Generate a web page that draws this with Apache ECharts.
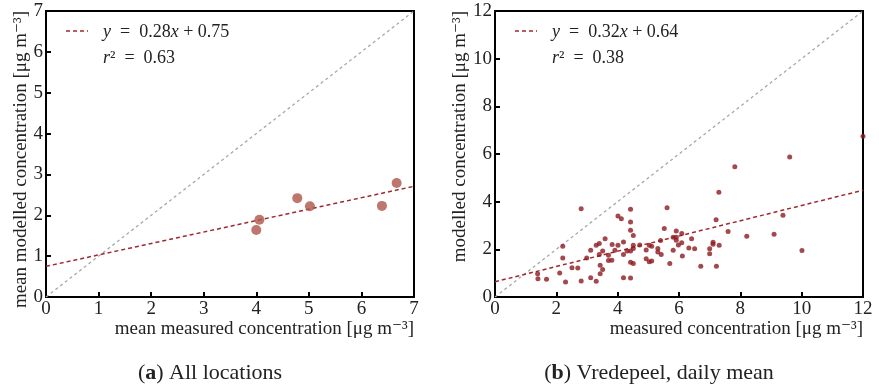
<!DOCTYPE html>
<html>
<head>
<meta charset="UTF-8">
<title>Modelled vs measured concentration</title>
<script src="https://cdn.jsdelivr.net/npm/echarts@6/dist/echarts.min.js"></script>
<style>
  html, body { margin: 0; padding: 0; background: #fff; }
  #chart { width: 879px; height: 389px; }
</style>
</head>
<body>
<div id="chart"></div>
<script>
// (a) all locations: [measured, modelled]
const pointsA = [[4.00, 1.64], [4.06, 1.89], [4.78, 2.42], [5.02, 2.22], [6.39, 2.23], [6.67, 2.79]];
const fitA = [[0, 0.75], [7, 2.71]];
const oneToOneA = [[0, 0], [7, 7]];

// (b) Vredepeel, daily mean: [measured, modelled]
const pointsB = [
  [1.39, 0.98], [1.40, 0.77], [1.68, 0.74], [2.21, 2.13], [2.21, 1.64], [2.11, 1.01],
  [2.30, 0.63], [2.51, 1.23], [2.70, 1.22], [2.81, 3.70], [2.81, 0.67], [2.99, 1.64],
  [3.12, 1.96], [3.12, 0.81], [3.30, 2.17], [3.30, 0.66], [3.40, 2.24], [3.40, 1.78],
  [3.43, 1.33], [3.43, 0.98], [3.51, 1.93], [3.51, 1.15], [3.59, 2.44], [3.70, 1.75],
  [3.70, 1.53], [3.81, 1.54], [3.82, 2.20], [3.91, 1.96], [4.01, 2.17], [4.01, 3.40],
  [4.12, 3.28], [4.19, 2.31], [4.19, 1.78], [4.19, 0.81], [4.31, 1.93], [4.42, 3.68],
  [4.42, 3.15], [4.42, 2.80], [4.42, 1.93], [4.42, 1.46], [4.42, 0.80], [4.51, 2.58],
  [4.51, 2.17], [4.51, 2.03], [4.51, 1.41], [4.72, 2.18], [4.93, 1.97], [4.93, 1.61],
  [5.03, 2.17], [5.03, 1.48], [5.11, 1.51], [5.11, 2.13], [5.31, 2.04], [5.31, 1.89],
  [5.40, 2.37], [5.42, 1.78], [5.52, 2.87], [5.61, 3.75], [5.70, 1.41], [5.81, 2.51],
  [5.81, 1.96], [5.91, 2.77], [5.91, 2.51], [5.91, 2.38], [5.98, 2.18], [6.09, 2.66],
  [6.09, 2.28], [6.11, 1.72], [6.32, 2.06], [6.41, 2.44], [6.51, 2.02], [6.71, 1.29],
  [7.00, 2.02], [7.00, 1.81], [7.11, 2.30], [7.11, 2.21], [7.21, 3.24], [7.22, 1.29],
  [7.30, 4.40], [7.31, 2.17], [7.60, 2.75], [7.82, 5.46], [8.21, 2.55], [9.10, 2.63],
  [9.39, 3.43], [9.61, 5.87], [10.01, 1.95], [12.0, 6.75]
];
const fitB = [[0, 0.64], [12, 4.48]];
const oneToOneB = [[0, 0], [12, 12]];

const axisMaxA = 7, axisStepA = 1;
const axisMaxB = 12, axisStepB = 2;

const FONT = "'Liberation Serif', 'DejaVu Serif', serif";
const fitColor = '#9e2a2f';
const refColor = '#a8a8a8';

function makeX(idx, max, step) {
  return {
    gridIndex: idx, type: 'value', min: 0, max: max, interval: step,
    axisLine: { show: false },
    axisTick: { inside: true, length: 5, lineStyle: { color: '#000', width: 2 } },
    axisLabel: { color: '#222', fontFamily: FONT, fontSize: 19, margin: 3 },
    splitLine: { show: false }
  };
}
function makeY(idx, max, step) {
  return {
    gridIndex: idx, type: 'value', min: 0, max: max, interval: step,
    axisLine: { show: false },
    axisTick: { inside: true, length: 5, lineStyle: { color: '#000', width: 2 } },
    axisLabel: { color: '#222', fontFamily: FONT, fontSize: 19, margin: 3 },
    splitLine: { show: false }
  };
}
function dashed(name, idx, data, color, width, dash) {
  return {
    name: name, type: 'line', xAxisIndex: idx, yAxisIndex: idx, data: data,
    showSymbol: false, silent: true, z: 1,
    lineStyle: { color: color, width: width, type: dash }
  };
}

const labelStyle = { fill: '#222', font: '19px ' + FONT };
const rich = {
  i: { fontStyle: 'italic', fontFamily: FONT, fontSize: 18, fill: '#222' },
  n: { fontFamily: FONT, fontSize: 18, fill: '#222' }
};

function legendBlock(x0, eq, r2) {
  return [
    { type: 'line', shape: { x1: x0, y1: 31, x2: x0 + 22, y2: 31 },
      style: { stroke: fitColor, lineWidth: 1.5, lineDash: [4, 3] } },
    { type: 'text', x: x0 + 37, y: 32,
      style: { text: eq, rich: rich, font: '18px ' + FONT, fill: '#222', verticalAlign: 'middle' } },
    { type: 'text', x: x0 + 37, y: 58,
      style: { text: r2, rich: rich, font: '18px ' + FONT, fill: '#222', verticalAlign: 'middle' } }
  ];
}

const chart = echarts.init(document.getElementById('chart'), null, { renderer: 'canvas' });
chart.setOption({
  animation: false,
  backgroundColor: '#fff',
  grid: [
    { left: 46, top: 11, width: 368, height: 286, show: true, borderColor: '#000', borderWidth: 2, backgroundColor: 'transparent' },
    { left: 495, top: 11, width: 368, height: 286, show: true, borderColor: '#000', borderWidth: 2, backgroundColor: 'transparent' }
  ],
  xAxis: [makeX(0, axisMaxA, axisStepA), makeX(1, axisMaxB, axisStepB)],
  yAxis: [makeY(0, axisMaxA, axisStepA), makeY(1, axisMaxB, axisStepB)],
  series: [
    dashed('1:1 a', 0, oneToOneA, refColor, 1.3, [3, 3]),
    dashed('fit a', 0, fitA, fitColor, 1.5, [4, 3]),
    { name: 'all locations', type: 'scatter', xAxisIndex: 0, yAxisIndex: 0, data: pointsA,
      symbolSize: 10, itemStyle: { color: '#ad5548' }, z: 3 },
    dashed('1:1 b', 1, oneToOneB, refColor, 1.3, [3, 3]),
    dashed('fit b', 1, fitB, fitColor, 1.5, [4, 3]),
    { name: 'Vredepeel', type: 'scatter', xAxisIndex: 1, yAxisIndex: 1, data: pointsB,
      symbolSize: 5, itemStyle: { color: '#8c1a21' }, z: 3 }
  ],
  graphic: [
    ...legendBlock(66, '{i|y}{n|  =  0.28}{i|x}{n| + 0.75}', '{i|r}{n|²  =  0.63}'),
    ...legendBlock(515, '{i|y}{n|  =  0.32}{i|x}{n| + 0.64}', '{i|r}{n|²  =  0.38}'),
    { type: 'text', x: 414, y: 329,
      style: Object.assign({ text: 'mean measured concentration [μg m⁻³]', align: 'right', verticalAlign: 'middle' }, labelStyle) },
    { type: 'text', x: 863, y: 329,
      style: Object.assign({ text: 'measured concentration [μg m⁻³]', align: 'right', verticalAlign: 'middle' }, labelStyle) },
    { type: 'text', x: 21, y: 11, rotation: Math.PI / 2,
      style: Object.assign({ text: 'mean modelled concentration [μg m⁻³]', align: 'right', verticalAlign: 'middle' }, labelStyle) },
    { type: 'text', x: 460, y: 11, rotation: Math.PI / 2,
      style: Object.assign({ text: 'modelled concentration [μg m⁻³]', align: 'right', verticalAlign: 'middle' }, labelStyle) },
    { type: 'text', x: 210, y: 373,
      style: { text: '({b|a}) All locations', align: 'center', verticalAlign: 'middle', font: '22px ' + FONT, fill: '#222',
        rich: { b: { fontWeight: 'bold', fontFamily: FONT, fontSize: 22, fill: '#222' } } } },
    { type: 'text', x: 659, y: 373,
      style: { text: '({b|b}) Vredepeel, daily mean', align: 'center', verticalAlign: 'middle', font: '22px ' + FONT, fill: '#222',
        rich: { b: { fontWeight: 'bold', fontFamily: FONT, fontSize: 22, fill: '#222' } } } }
  ]
});
</script>
</body>
</html>
